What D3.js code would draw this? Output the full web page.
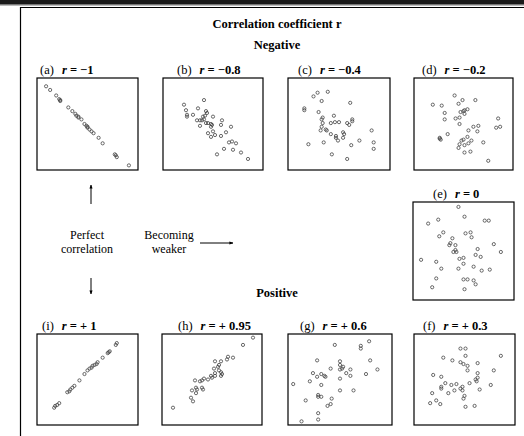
<!DOCTYPE html>
<html><head><meta charset="utf-8">
<script src="https://cdn.jsdelivr.net/npm/d3@7"></script>
<style>body{margin:0;background:#fff}svg{display:block}</style>
</head><body>
<script>
// Scatter samples for each correlation strength, x and y on a 0–100 scale.
const panelIds = ["a", "b", "c", "d", "e", "f", "g", "h", "i"];
const rValues = ["−1", "−0.8", "−0.4", "−0.2", "0", "+ 0.3", "+ 0.6", "+ 0.95", "+ 1"];

const ptsA = [[9,91],[13,87],[19,81],[22,77],[23,75],[23,76],[31,68],[35,64],[38,61],[39,59],[41,57],[41,58],[44,55],[47,50],[49,48],[50,46],[50,47],[52,44],[54,42],[56,40],[61,35],[65,29],[77,17],[78,16],[79,14],[91,5]];
const ptsB = [[41,76],[21,71],[35,67],[23,65],[43,64],[44,62],[24,60],[24,58],[30,60],[42,59],[40,58],[50,58],[34,54],[37,54],[39,54],[41,55],[59,54],[43,51],[45,51],[48,50],[49,49],[37,48],[58,49],[68,47],[48,47],[50,42],[45,40],[63,41],[52,38],[48,36],[58,37],[66,30],[69,31],[73,29],[61,23],[70,22],[78,19],[54,17],[85,12]];
const ptsC = [[25,80],[29,84],[39,85],[33,75],[16,67],[16,65],[61,73],[30,63],[45,59],[34,57],[33,55],[63,55],[63,53],[34,51],[42,51],[46,52],[50,52],[58,51],[60,49],[33,47],[37,44],[38,43],[32,43],[82,43],[42,39],[54,41],[55,39],[47,37],[47,35],[54,35],[70,32],[84,30],[20,28],[35,30],[49,32],[62,27],[84,23],[43,17],[58,12]];
const ptsD = [[41,81],[49,76],[62,76],[19,71],[28,70],[45,72],[54,66],[51,65],[50,64],[47,63],[51,61],[31,62],[31,55],[42,56],[46,57],[85,56],[46,50],[83,46],[87,47],[65,48],[60,47],[55,43],[64,42],[34,39],[26,35],[27,33],[26,34],[54,36],[48,32],[50,33],[58,32],[46,28],[70,30],[55,29],[51,27],[45,24],[51,19],[57,20],[75,10]];
const ptsE = [[45,95],[51,85],[25,82],[71,81],[75,81],[15,78],[30,69],[26,65],[52,68],[57,69],[58,64],[39,63],[37,58],[36,56],[42,56],[80,57],[87,49],[40,49],[42,51],[43,49],[64,52],[62,46],[67,44],[46,42],[50,43],[8,41],[23,39],[50,37],[60,34],[28,32],[45,32],[68,30],[76,31],[23,22],[50,21],[54,21],[60,20],[62,16],[19,13],[51,11]];
const ptsF = [[46,84],[51,84],[29,74],[51,76],[86,76],[38,71],[46,69],[49,67],[53,65],[63,68],[53,60],[79,60],[19,55],[27,53],[63,57],[63,52],[61,50],[62,48],[55,46],[31,46],[76,44],[27,42],[27,40],[37,44],[42,45],[48,42],[46,40],[48,38],[40,38],[34,35],[65,39],[18,35],[50,32],[49,29],[22,27],[16,24],[26,23],[51,20],[60,21]];
const ptsG = [[78,92],[45,88],[70,87],[70,84],[28,71],[50,70],[79,71],[50,66],[53,64],[52,62],[50,61],[41,62],[60,61],[56,57],[86,61],[24,57],[32,56],[35,54],[36,53],[28,53],[60,54],[75,56],[21,48],[50,51],[5,45],[32,44],[50,38],[63,38],[29,33],[29,31],[32,31],[17,27],[42,29],[41,23],[38,21],[29,13],[29,6],[13,4]];
const ptsH = [[91,96],[81,88],[71,74],[66,75],[65,72],[53,70],[59,70],[57,66],[56,64],[52,62],[57,60],[59,58],[60,56],[59,54],[53,57],[53,54],[49,54],[50,52],[46,50],[42,51],[40,49],[38,48],[33,49],[34,41],[35,39],[30,38],[40,41],[41,39],[34,35],[29,30],[31,26],[11,19]];
const ptsI = [[79,90],[78,88],[72,81],[71,80],[70,79],[65,74],[60,69],[59,67],[57,66],[55,65],[54,63],[52,62],[50,60],[47,56],[42,49],[37,43],[35,41],[33,39],[32,37],[30,36],[22,24],[20,22],[18,21],[17,19]];
const panelPoints = [ptsA, ptsB, ptsC, ptsD, ptsE, ptsF, ptsG, ptsH, ptsI];

// Where each panel box and its caption sit on the page.
const layout = {
  a: {x: 37,  y: 78,  w: 101, h: 92, lx: 40},
  b: {x: 163, y: 78,  w: 100, h: 92, lx: 177},
  c: {x: 288, y: 78,  w: 102, h: 92, lx: 298},
  d: {x: 414, y: 78,  w: 99,  h: 92, lx: 422},
  e: {x: 413, y: 202, w: 101, h: 98, lx: 433},
  f: {x: 414, y: 334, w: 101, h: 91, lx: 423},
  g: {x: 288, y: 334, w: 104, h: 91, lx: 300},
  h: {x: 162, y: 334, w: 100, h: 91, lx: 178},
  i: {x: 37,  y: 334, w: 101, h: 91, lx: 42}
};

const W = 524, H = 436;
const serif = "'Liberation Serif', 'Times New Roman', serif";
const svg = d3.select("body").append("svg").attr("width", W).attr("height", H)
  .style("font-family", serif);

// Page edge and frame
svg.append("rect").attr("x", 0).attr("y", 0).attr("width", W).attr("height", 4).attr("fill", "#1a1a1a");
svg.append("rect").attr("x", 0).attr("y", 4).attr("width", W).attr("height", 1.5).attr("fill", "#777");
svg.append("path").attr("d", `M20.5,${H} V7.5 H${W}`).attr("fill", "none").attr("stroke", "#000").attr("stroke-width", 1.2);

// Headings
const heading = (txt, x, y) => svg.append("text").attr("x", x).attr("y", y).attr("text-anchor", "middle")
  .attr("font-size", 12.5).attr("font-weight", "bold").text(txt);
heading("Correlation coefficient r", 277, 28);
heading("Negative", 277, 49);
heading("Positive", 277, 297);

// Panels
panelIds.forEach((id, k) => {
  const L = layout[id];
  const x = d3.scaleLinear().domain([0, 100]).range([L.x, L.x + L.w]);
  const y = d3.scaleLinear().domain([0, 100]).range([L.y + L.h, L.y]);
  const g = svg.append("g");
  g.append("rect").attr("x", L.x).attr("y", L.y).attr("width", L.w).attr("height", L.h)
    .attr("fill", "#fff").attr("stroke", "#000").attr("stroke-width", 1.2);
  g.selectAll("circle").data(panelPoints[k]).join("circle")
    .attr("cx", d => x(d[0])).attr("cy", d => y(d[1])).attr("r", 1.6)
    .attr("fill", "none").attr("stroke", "#444").attr("stroke-width", 0.8);
  const t = g.append("text").attr("x", L.lx).attr("y", L.y - 4).attr("font-size", 12.5);
  t.append("tspan").text(`(${id})`);
  t.append("tspan").attr("dx", 8).attr("font-weight", "bold").attr("font-style", "italic").text("r");
  t.append("tspan").attr("font-weight", "bold").text(" = " + rValues[k]);
});

// Side annotations with arrows
const defs = svg.append("defs");
defs.append("marker").attr("id", "tip").attr("viewBox", "0 0 10 10").attr("refX", 9).attr("refY", 5)
  .attr("markerWidth", 4).attr("markerHeight", 4).attr("orient", "auto")
  .append("path").attr("d", "M0,1 L10,5 L0,9 Z").attr("fill", "#000");
const arrow = (x1, y1, x2, y2) => svg.append("line").attr("x1", x1).attr("y1", y1).attr("x2", x2).attr("y2", y2)
  .attr("stroke", "#000").attr("stroke-width", 1).attr("marker-end", "url(#tip)");
arrow(91, 204, 91, 185);
arrow(91, 278, 91, 294);
arrow(200, 243, 233, 243);

const note = (lines, x, y) => lines.forEach((s, i) =>
  svg.append("text").attr("x", x).attr("y", y + i * 13.5).attr("text-anchor", "middle")
    .attr("font-size", 12).text(s));
note(["Perfect", "correlation"], 87, 239);
note(["Becoming", "weaker"], 169, 239);
</script>
</body></html>
